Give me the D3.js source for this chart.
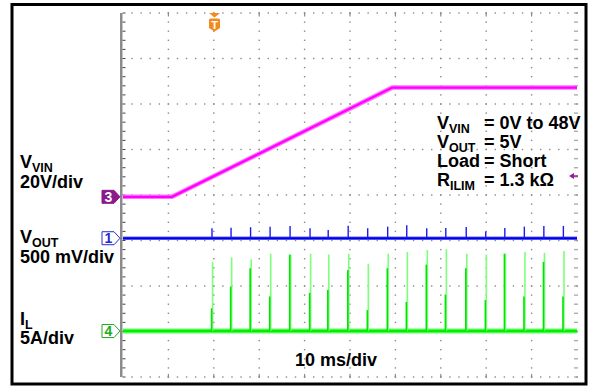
<!DOCTYPE html>
<html>
<head>
<meta charset="utf-8">
<script src="https://cdn.jsdelivr.net/npm/d3@7"></script>
<style>
  body { margin: 0; background: #fff; }
  svg { display: block; font-family: Arial, "Liberation Sans", sans-serif; font-weight: bold; }
</style>
</head>
<body>
<div id="chart"></div>
<script>
// scope screen: 10 x 8 divisions, 10 ms/div
const nDivX = 10, nDivY = 8, msPerDiv = 10;

// VIN ramp (breakpoints)
const vinTimes = [0, 10.8, 59.3, 100];       // ms
const vinVolts = [0, 0, 48, 48];             // V

// hiccup pulses once the ramp is past UVLO
const pulseTimes = [19.6, 23.8, 28.1, 32.4, 36.8, 41.2, 45.2, 49.6, 53.9, 58.3,
                    62.5, 66.9, 71.1, 75.6, 79.9, 84.1, 88.4, 92.7, 97.0];   // ms
const voutSpikeMv = [110, 116, 121, 127, 135, 110, 91, 138, 110, 127,
                     143, 110, 113, 124, 73, 113, 127, 135, 135];           // mV
const ilPeakA = [7.6, 8.1, 7.9, 8.5, 8.4, 8.5, 8.4, 8.5, 7.4, 8.5,
                 8.7, 8.9, 9.0, 8.5, 8.4, 8.5, 8.7, 8.6, 8.8];              // A
const ilCoreA = [2.5, 4.9, 6.9, 3.8, 8.4, 4.2, 4.5, 6.7, 2.3, 6.9,
                 3.2, 7.3, 4.0, 6.9, 3.4, 8.5, 3.8, 7.6, 3.8];              // A

// channel labels
const channelLabels = [
  { main: 'V', sub: 'VIN', scale: '20V/div' },
  { main: 'V', sub: 'OUT', scale: '500 mV/div' },
  { main: 'I', sub: 'L', scale: '5A/div' }
];
const noteLabels = [
  { main: 'V', sub: 'VIN', value: '= 0V to 48V' },
  { main: 'V', sub: 'OUT', value: '= 5V' },
  { main: 'Load', sub: '', value: '= Short' },
  { main: 'R', sub: 'ILIM', value: '= 1.3 k\u03A9' }
];
const timeLabel = msPerDiv + ' ms/div';

const W = 592, H = 386;
const svg = d3.select('#chart').append('svg').attr('width', W).attr('height', H);

// grid scales
const gx = d3.scaleLinear().domain([0, nDivX]).range([123, 577]);
const gy = d3.scaleLinear().domain([0, nDivY]).range([13, 377]);
const x = d3.scaleLinear().domain([0, nDivX * msPerDiv]).range([123, 577]);
const divH = gy(1) - gy(0);

// channel vertical scales (ground marker level in divisions from top)
function chanScale(levelDiv, perDiv) {
  return d3.scaleLinear().domain([0, perDiv]).range([gy(levelDiv), gy(levelDiv) - divH]);
}
const yVin = chanScale(4.04, 20);
const yVout = chanScale(4.95, 500);
const yIl = chanScale(6.99, 5);

// outer frame
svg.append('rect')
  .attr('x', 12).attr('y', 4.5).attr('width', 574).attr('height', 379.5)
  .attr('fill', 'none').attr('stroke', '#000').attr('stroke-width', 3);

// GRID dots
const grid = svg.append('g');
const minor = d3.range(0, nDivX * 5 + 1).map(j => j / 5);
const minorY = d3.range(0, nDivY * 5 + 1).map(j => j / 5);
d3.range(0, nDivY + 1).forEach(i => {
  grid.selectAll(null).data(minor.filter(m => m > 0)).enter().append('rect')
    .attr('x', d => gx(d) - 0.7).attr('y', gy(i) - 0.7)
    .attr('width', 1.4).attr('height', 1.4).attr('fill', '#8a8a8a');
});
d3.range(1, nDivX + 1).forEach(i => {
  grid.selectAll(null).data(minorY).enter().append('rect')
    .attr('x', gx(i) - 0.7).attr('y', d => gy(d) - 0.7)
    .attr('width', 1.4).attr('height', 1.4).attr('fill', '#8a8a8a');
});
// right edge double dots
grid.selectAll(null).data(minorY).enter().append('rect')
  .attr('x', gx(nDivX) - 2.7).attr('y', d => gy(d) - 0.7)
  .attr('width', 1.4).attr('height', 1.4).attr('fill', '#8a8a8a');
// top / bottom major ticks
d3.range(1, nDivX).forEach(i => {
  [gy(0), gy(nDivY) - 3].forEach(yy => {
    grid.append('rect').attr('x', gx(i) - 0.6).attr('y', yy)
      .attr('width', 1.2).attr('height', 3.5).attr('fill', '#8a8a8a');
  });
});
// left edge bar with ticks
svg.append('rect').attr('x', 120).attr('y', gy(0)).attr('width', 2.5)
  .attr('height', gy(nDivY) - gy(0)).attr('fill', '#8c8c8c');
svg.append('g').selectAll('line').data(minorY).enter().append('line')
  .attr('x1', 122.5).attr('x2', 125.5)
  .attr('y1', d => gy(d)).attr('y2', d => gy(d))
  .attr('stroke', '#444').attr('stroke-width', 1);

// VIN trace
const vinLine = d3.line().x(d => x(d[0])).y(d => yVin(d[1]));
const vinPts = vinTimes.map((t, i) => [t, vinVolts[i]]);
svg.append('path').attr('d', vinLine(vinPts)).attr('fill', 'none')
  .attr('stroke', '#ff70ff').attr('stroke-width', 4.5);
svg.append('path').attr('d', vinLine(vinPts)).attr('fill', 'none')
  .attr('stroke', '#ff00ff').attr('stroke-width', 2.2);

// VOUT trace
svg.append('line').attr('x1', x(0)).attr('x2', x(100))
  .attr('y1', yVout(0)).attr('y2', yVout(0))
  .attr('stroke', '#6a6aff').attr('stroke-width', 3.5);
svg.append('line').attr('x1', x(0)).attr('x2', x(100))
  .attr('y1', yVout(0)).attr('y2', yVout(0))
  .attr('stroke', '#0000e6').attr('stroke-width', 1.8);
svg.append('g').selectAll('line').data(pulseTimes).enter().append('line')
  .attr('x1', d => x(d)).attr('x2', d => x(d))
  .attr('y1', yVout(0)).attr('y2', (d, i) => yVout(voutSpikeMv[i]))
  .attr('stroke', '#1a1af0').attr('stroke-width', 1.4);

// IL trace
svg.append('line').attr('x1', x(0)).attr('x2', x(100))
  .attr('y1', yIl(0)).attr('y2', yIl(0))
  .attr('stroke', '#66ff66').attr('stroke-width', 5);
svg.append('line').attr('x1', x(0)).attr('x2', x(100))
  .attr('y1', yIl(0)).attr('y2', yIl(0))
  .attr('stroke', '#00ee00').attr('stroke-width', 2.5);
const ilG = svg.append('g');
ilG.selectAll('.pk').data(pulseTimes).enter().append('line')
  .attr('x1', d => x(d) + 0.6).attr('x2', d => x(d) + 0.6)
  .attr('y1', yIl(0)).attr('y2', (d, i) => yIl(ilPeakA[i]))
  .attr('stroke', '#7cff7c').attr('stroke-width', 1.6);
ilG.selectAll('.core').data(pulseTimes).enter().append('line')
  .attr('x1', d => x(d) - 0.4).attr('x2', d => x(d) - 0.4)
  .attr('y1', yIl(0)).attr('y2', (d, i) => yIl(ilCoreA[i]))
  .attr('stroke', '#00e600').attr('stroke-width', 1.6);

// channel markers
function marker(yy, label, fill, stroke, txt) {
  const g = svg.append('g');
  g.append('path')
    .attr('d', `M102,${yy - 6.5} H114 L120,${yy} L114,${yy + 6.5} H102 Z`)
    .attr('fill', fill).attr('stroke', stroke).attr('stroke-width', 1);
  g.append('text').attr('x', 108.5).attr('y', yy + 5).attr('text-anchor', 'middle')
    .attr('font-size', 14).attr('fill', txt).text(label);
}
marker(yVin(0), '3', '#8b1a8b', '#8b1a8b', '#fff');
marker(yVout(0), '1', '#fff', '#2a2ad0', '#2a2ad0');
marker(yIl(0), '4', '#fff', '#22aa22', '#22aa22');

// trigger marker
const tx = 214.5;
svg.append('path').attr('d', `M${tx - 5.5},13 H${tx + 5.5} L${tx},17.5 Z`).attr('fill', '#f28a1e');
svg.append('path')
  .attr('d', `M${tx - 5.5},20 Q${tx - 5.5},18.5 ${tx - 4},18.5 H${tx + 4} Q${tx + 5.5},18.5 ${tx + 5.5},20 V28 L${tx},31.5 L${tx - 5.5},28 Z`)
  .attr('fill', '#f28a1e');
svg.append('text').attr('x', tx).attr('y', 28.5).attr('text-anchor', 'middle')
  .attr('font-size', 11).attr('fill', '#fff').text('T');

// small purple arrow at right edge
svg.append('path').attr('d', 'M569,176 L574,173 L574,179 Z').attr('fill', '#9b1c9b');
svg.append('line').attr('x1', 573).attr('x2', 578).attr('y1', 176).attr('y2', 176)
  .attr('stroke', '#9b1c9b').attr('stroke-width', 1.5);

// LEFT labels
const leftBase = [[168, 188], [243, 263], [325, 344]];
channelLabels.forEach((c, i) => {
  const t = svg.append('text').attr('x', 20).attr('y', leftBase[i][0]).attr('font-size', 18);
  t.append('tspan').text(c.main);
  t.append('tspan').attr('font-size', 12.5).attr('dy', 3.5).text(c.sub);
  svg.append('text').attr('x', 20).attr('y', leftBase[i][1]).attr('font-size', 18).text(c.scale);
});

// annotation block
const noteBase = [129, 148, 167, 186];
noteLabels.forEach((n, i) => {
  const t = svg.append('text').attr('x', 437).attr('y', noteBase[i]).attr('font-size', 18);
  t.append('tspan').text(n.main);
  if (n.sub) t.append('tspan').attr('font-size', 12.5).attr('dy', 3.5).text(n.sub);
  svg.append('text').attr('x', 484).attr('y', noteBase[i]).attr('font-size', 18).text(n.value);
});

// time base
svg.append('text').attr('x', 295).attr('y', 366).attr('font-size', 18).text(timeLabel);
</script>
</body>
</html>
